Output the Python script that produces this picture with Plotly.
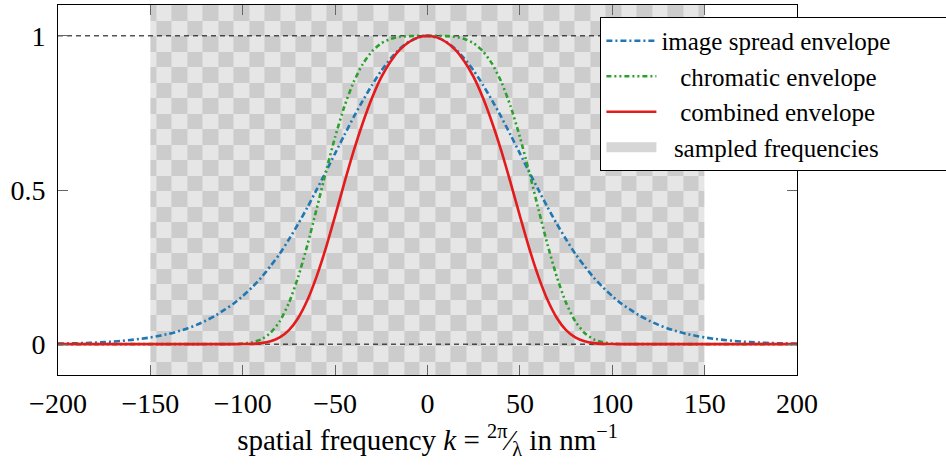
import numpy as np
import plotly.graph_objects as go

# ---------------- data ----------------
k = [-200, -195, -190, -185, -180, -175, -170, -165, -160, -155, -150, -145, -140, -135, -130,
     -125, -120, -115, -110, -105, -100, -95, -90, -85, -80, -75, -70, -65, -60, -55, -50,
     -45, -40, -35, -30, -25, -20, -15, -10, -5, 0, 5, 10, 15, 20, 25, 30, 35, 40, 45, 50,
     55, 60, 65, 70, 75, 80, 85, 90, 95, 100, 105, 110, 115, 120, 125, 130, 135, 140, 145,
     150, 155, 160, 165, 170, 175, 180, 185, 190, 195, 200]

image_spread = [0.0017, 0.0023, 0.0030, 0.0039, 0.0051, 0.0066, 0.0085, 0.0109, 0.0139, 0.0175,
                0.0218, 0.0272, 0.0337, 0.0416, 0.051, 0.0625, 0.076, 0.092, 0.111, 0.131,
                0.156, 0.184, 0.216, 0.253, 0.293, 0.340, 0.390, 0.444, 0.501, 0.559, 0.619,
                0.678, 0.736, 0.790, 0.841, 0.887, 0.926, 0.958, 0.981, 0.995, 1.000,
                0.995, 0.981, 0.958, 0.926, 0.887, 0.841, 0.790, 0.736, 0.678, 0.619,
                0.559, 0.501, 0.444, 0.390, 0.340, 0.293, 0.253, 0.216, 0.184, 0.156,
                0.131, 0.111, 0.092, 0.076, 0.0625, 0.051, 0.0416, 0.0337, 0.0272, 0.0218,
                0.0175, 0.0139, 0.0109, 0.0085, 0.0066, 0.0051, 0.0039, 0.0030, 0.0023, 0.0017]

chromatic = [0, 0, 0, 0, 0, 0, 0, 0, 0, 0,
             0, 0, 0, 0, 0, 0, 0, 0, 0.0001, 0.00045,
             0.0017, 0.0057, 0.0155, 0.0364, 0.074, 0.134, 0.218, 0.322, 0.439, 0.559, 0.672,
             0.771, 0.850, 0.909, 0.950, 0.976, 0.990, 0.997, 0.999, 1.000, 1.000,
             1.000, 0.999, 0.997, 0.990, 0.976, 0.950, 0.909, 0.850, 0.771, 0.672,
             0.559, 0.439, 0.322, 0.218, 0.134, 0.074, 0.0364, 0.0155, 0.0057, 0.0017,
             0.00045, 0.0001, 0, 0, 0, 0, 0, 0, 0, 0,
             0, 0, 0, 0, 0, 0, 0, 0, 0, 0]

combined = [0, 0, 0, 0, 0, 0, 0, 0, 0, 0,
            0, 0, 0, 0, 0, 0, 0, 0, 0, 0.0001,
            0.0003, 0.0010, 0.0033, 0.0092, 0.0217, 0.0456, 0.085, 0.143, 0.220, 0.312, 0.416,
            0.523, 0.626, 0.718, 0.799, 0.866, 0.917, 0.955, 0.980, 0.995, 1.000,
            0.995, 0.980, 0.955, 0.917, 0.866, 0.799, 0.718, 0.626, 0.523, 0.416,
            0.312, 0.220, 0.143, 0.085, 0.0456, 0.0217, 0.0092, 0.0033, 0.0010, 0.0003,
            0.0001, 0, 0, 0, 0, 0, 0, 0, 0, 0,
            0, 0, 0, 0, 0, 0, 0, 0, 0, 0]

sampled_range = [-150, 150]
reference_levels = [0, 1]

x_ticks = [-200, -150, -100, -50, 0, 50, 100, 150, 200]
y_ticks = [0, 0.5, 1]
y_tick_labels = ["0", "0.5", "1"]

series_names = ["image spread envelope", "chromatic envelope",
                "combined envelope", "sampled frequencies"]

# ---------------- styling ----------------
FONT = "Times New Roman, Liberation Serif, serif"
BLUE = "#1f77b4"
GREEN = "#2ca02c"
RED = "#e41a1c"
LIGHT = "#e6e6e6"
DARK = "#cccccc"
XR = [-200, 200]
YR = [-0.1, 1.1]

# checkerboard background pattern for the sampled region
cw, ch = 8.39, 0.0503
x0p, y0p = -146.95, -0.0068
nx = np.arange(-1, 40)
mx = ((x0p + nx * cw) > sampled_range[0]) & ((x0p + nx * cw) < sampled_range[1])
xi = np.concatenate([[nx[mx][0] - 1], nx[mx]])
x_edges = np.concatenate([[sampled_range[0]], x0p + nx[mx] * cw, [sampled_range[1]]])
ny = np.arange(-5, 30)
my = ((y0p + ny * ch) > YR[0]) & ((y0p + ny * ch) < YR[1])
yi = np.concatenate([[ny[my][0] - 1], ny[my]])
y_edges = np.concatenate([[YR[0]], y0p + ny[my] * ch, [YR[1]]])
z = [[1 if (int(i) + int(j)) % 2 == 0 else 0 for i in xi] for j in yi]

fig = go.Figure()
fig.add_trace(go.Heatmap(x=x_edges, y=y_edges, z=z,
                         colorscale=[[0, LIGHT], [1, DARK]], zmin=0, zmax=1,
                         showscale=False, hoverinfo="skip", showlegend=False))

for lev in reference_levels:
    fig.add_trace(go.Scatter(x=XR, y=[lev, lev], mode="lines",
                             line=dict(color="black", width=1, dash="5px,4px"),
                             showlegend=False, hoverinfo="skip"))

pad = "\u00a0"
fig.add_trace(go.Scatter(x=k, y=image_spread, mode="lines", name=series_names[0] + pad * 8,
                         line=dict(color=BLUE, width=2.6, dash="6px,3px,2px,3px",
                                   shape="spline", smoothing=0.6)))
fig.add_trace(go.Scatter(x=k, y=chromatic, mode="lines", name=pad * 3 + series_names[1],
                         line=dict(color=GREEN, width=2.6, dash="5px,3px,2px,3px,2px,3px",
                                   shape="spline", smoothing=0.6)))
fig.add_trace(go.Scatter(x=k, y=combined, mode="lines", name=pad * 3 + series_names[2],
                         line=dict(color=RED, width=2.6, shape="spline", smoothing=0.6)))
fig.add_trace(go.Scatter(x=[None], y=[None], mode="lines", name=pad * 2 + series_names[3],
                         line=dict(color="#d6d6d6", width=14)))

axis_common = dict(showline=True, linecolor="black", linewidth=1, mirror="ticks",
                   ticks="inside", ticklen=10, tickcolor="#666666", tickwidth=1,
                   showgrid=False, zeroline=False,
                   tickfont=dict(family=FONT, size=28, color="black"))

fig.update_layout(
    width=946, height=465,
    margin=dict(l=58, r=149, t=5, b=90, autoexpand=False),
    plot_bgcolor="white", paper_bgcolor="white",
    font=dict(family=FONT, color="black"),
    xaxis=dict(range=XR, tickvals=x_ticks, ticklabelstandoff=3,
               title=dict(text="spatial frequency <i>k</i> = <sup>2π</sup>⁄<sub>λ</sub> in nm<sup>−1</sup>",
                          font=dict(family=FONT, size=29), standoff=12),
               **axis_common),
    yaxis=dict(range=YR, tickvals=y_ticks, ticktext=y_tick_labels, ticklabelstandoff=6,
               **axis_common),
    legend=dict(x=1.2035, y=0.9676, xanchor="right", yanchor="top",
                bgcolor="white", bordercolor="black", borderwidth=1,
                font=dict(family=FONT, size=25, color="black"),
                itemwidth=50, tracegroupgap=0),
    showlegend=True,
)

fig.write_html("out.html")
